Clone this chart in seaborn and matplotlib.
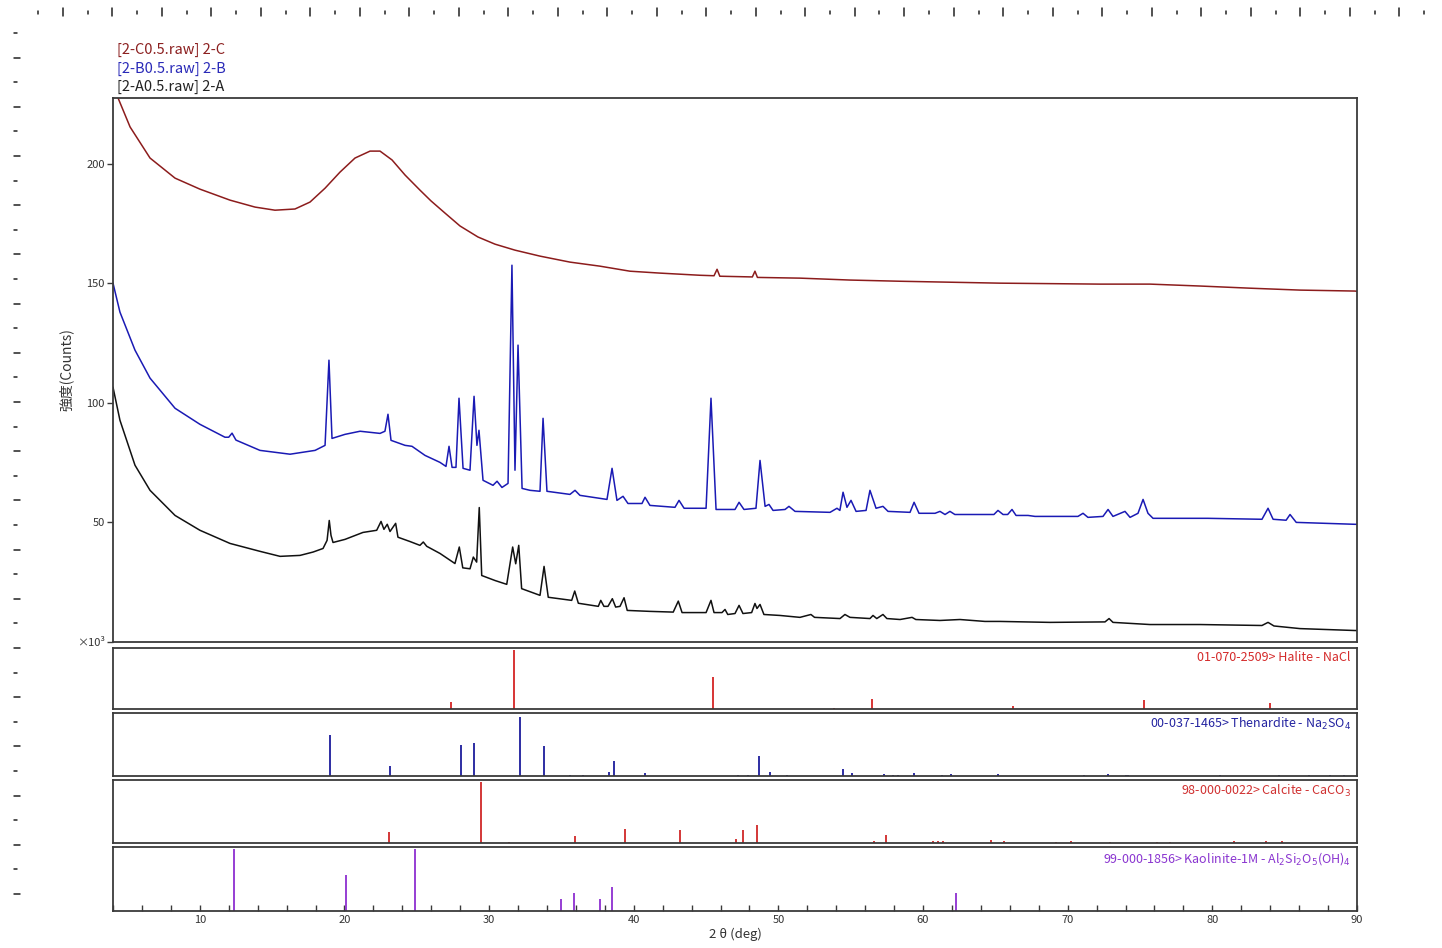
import numpy as np
import matplotlib
matplotlib.use("Agg")
import matplotlib.pyplot as plt
from matplotlib.lines import Line2D
import seaborn as sns

# ---------------- data (2theta in deg, counts in x10^3) ----------------
c_2theta = [4.0, 4.35, 5.18, 6.56, 8.29, 10.01, 12.09, 13.82, 15.2, 16.58, 17.62, 18.66, 19.69,
            20.73, 21.77, 22.46, 23.29, 24.19, 25.22, 25.98, 26.95, 27.99, 29.23,
            30.41, 31.79, 33.52, 35.59, 37.67, 39.74, 41.82, 44.58, 45.55, 45.76, 45.95, 48.2,
            48.38, 48.55, 51.49, 54.95, 58.41, 61.86, 65.32, 68.8, 72.23, 75.69, 79.15, 82.6,
            86.06, 89.86, 90.0]
c_counts = [233.0, 227.4, 215.3, 202.3, 193.9, 189.3, 184.7, 181.8, 180.5, 181.0, 183.9, 189.7, 196.4,
            202.3, 205.2, 205.2, 201.5, 195.2, 188.9, 184.4, 179.3, 173.9, 169.3,
            166.3, 163.8, 161.3, 158.8, 157.1, 155.0, 154.2, 153.3, 153.1, 155.8, 152.9, 152.6,
            155.0, 152.4, 152.1, 151.3, 150.8, 150.4, 150.0, 149.8, 149.6, 149.6, 148.8, 147.9,
            147.1, 146.7, 146.6]

b_2theta = [4.0, 4.48, 5.52, 6.56, 8.29, 10.01, 11.74, 12.0, 12.23, 12.5, 14.16, 16.24, 17.97,
            18.66, 18.93, 19.14, 20.04, 21.08, 22.46, 22.8, 23.01, 23.22, 24.19, 24.67, 25.57,
            26.6, 27.02, 27.23, 27.44, 27.71, 27.92, 28.2, 28.68, 28.96, 29.16, 29.3, 29.58,
            30.27, 30.55, 30.89, 31.31, 31.58, 31.79, 32.0, 32.28, 32.83, 33.52, 33.73, 34.0,
            35.59, 35.94, 36.28, 38.15, 38.5, 38.84, 39.26, 39.6, 40.57, 40.78, 41.12, 42.85,
            43.13, 43.48, 45.0, 45.34, 45.69, 47.0, 47.28, 47.62, 48.45, 48.73, 49.08, 49.35,
            49.63, 50.46, 50.73, 51.15, 53.57, 54.05, 54.25, 54.47, 54.74, 55.02, 55.37, 56.06,
            56.33, 56.75, 57.23, 57.58, 59.1, 59.38, 59.72, 60.83, 61.17, 61.52, 61.86, 62.2,
            64.9, 65.18, 65.53, 65.85, 66.15, 66.43, 67.26, 67.74, 70.71, 71.06, 71.4, 72.44,
            72.79, 73.13, 73.96, 74.31, 74.86, 75.21, 75.55, 75.9, 77.07, 79.69, 83.43, 83.85,
            84.2, 85.1, 85.37, 85.8, 89.86, 90.0]
b_counts = [150.0, 137.9, 122.0, 110.3, 97.7, 91.0, 85.6, 85.6, 87.3, 84.4, 80.1, 78.5, 80.1,
            82.2, 117.8, 85.1, 86.8, 88.1, 87.2, 88.1, 95.2, 84.3, 82.2, 81.8, 78.0,
            75.1, 73.4, 81.8, 73.0, 73.0, 101.9, 72.6, 71.8, 102.7, 82.2, 88.5, 67.6,
            65.5, 67.2, 64.6, 66.3, 157.5, 71.8, 124.1, 64.2, 63.4, 63.0, 93.5, 63.0,
            61.7, 63.4, 61.3, 59.6, 72.6, 59.2, 60.9, 57.9, 57.9, 60.5, 57.1, 56.3,
            59.2, 55.9, 55.9, 101.9, 55.4, 55.4, 58.4, 55.4, 55.9, 75.9, 56.7, 57.5,
            55.0, 55.4, 56.7, 54.6, 54.2, 55.9, 55.0, 62.6, 56.3, 59.2, 54.6, 55.0,
            63.4, 55.9, 56.7, 54.6, 54.2, 58.4, 53.8, 53.8, 54.6, 53.3, 54.6, 53.3,
            53.3, 55.0, 53.3, 53.3, 55.4, 52.9, 52.9, 52.5, 52.5, 53.8, 52.1, 52.5,
            55.4, 52.5, 54.6, 52.1, 53.8, 59.6, 53.8, 51.7, 51.7, 51.7, 51.3, 55.9,
            51.3, 50.9, 53.3, 50.0, 49.2, 49.2]

a_2theta = [4.0, 4.48, 5.52, 6.56, 8.29, 10.01, 12.09, 14.16, 15.55, 16.93, 17.83, 18.52, 18.8,
            18.95, 19.07, 19.21, 20.04, 21.28, 22.23, 22.53, 22.73, 22.96, 23.15, 23.54, 23.7,
            24.53, 25.22, 25.45, 25.69, 26.61, 27.64, 27.94, 28.18, 28.68, 28.91, 29.14, 29.32,
            29.49, 30.41, 31.22, 31.63, 31.84, 32.05, 32.25, 33.52, 33.8, 34.09, 35.71, 35.92,
            36.17, 37.55, 37.72, 37.94, 38.22, 38.52, 38.75, 39.05, 39.33, 39.55, 41.12, 42.73,
            43.08, 43.34, 45.0, 45.34, 45.55, 46.1, 46.31, 46.5, 47.0, 47.28, 47.55, 48.15,
            48.38, 48.52, 48.73, 49.0, 50.1, 51.49, 52.25, 52.5, 54.26, 54.6, 54.95, 56.33,
            56.54, 56.8, 57.23, 57.5, 58.41, 59.24, 59.5, 61.17, 62.55, 64.28, 65.32, 68.78,
            72.58, 72.86, 73.13, 75.69, 79.15, 83.43, 83.85, 84.26, 86.06, 89.86, 90.0]
a_counts = [106.5, 92.7, 73.9, 63.4, 52.9, 46.7, 41.2, 37.9, 35.8, 36.2, 37.6, 39.1, 42.5,
            50.8, 44.6, 41.6, 42.9, 45.8, 46.7, 50.4, 47.1, 49.2, 46.2, 49.6, 43.8,
            42.0, 40.4, 41.8, 40.0, 37.0, 32.8, 39.7, 31.0, 30.6, 35.5, 33.4, 56.2,
            27.8, 25.7, 24.1, 39.7, 32.7, 40.4, 22.3, 19.5, 31.6, 18.7, 17.4, 21.3,
            16.2, 14.9, 17.4, 14.9, 14.9, 18.1, 14.6, 14.9, 18.5, 13.2, 12.8, 12.5,
            17.1, 12.3, 12.3, 17.4, 12.3, 12.3, 13.6, 11.5, 11.9, 15.3, 11.9, 12.3,
            16.1, 14.0, 15.7, 11.5, 11.1, 10.3, 11.5, 10.3, 9.8, 11.5, 10.3, 9.8,
            11.1, 9.8, 11.5, 9.8, 9.4, 10.3, 9.4, 9.0, 9.4, 8.6, 8.6, 8.2,
            8.4, 9.8, 8.2, 7.3, 7.3, 6.9, 8.2, 6.7, 5.6, 4.8, 4.8]

scan_labels = ["[2-C0.5.raw] 2-C", "[2-B0.5.raw] 2-B", "[2-A0.5.raw] 2-A"]

halite_pos = [27.37, 31.70, 45.45, 53.87, 56.48, 66.23, 75.30, 83.99]
halite_int = [12, 100, 55, 2, 17, 5, 16, 10]

thenardite_pos = [19.03, 23.15, 28.04, 28.98, 32.11, 33.83, 35.6, 36.5, 38.3, 38.64, 40.8, 47.2,
                  47.9, 48.65, 49.4, 50.6, 54.5, 55.1, 57.3, 57.9, 58.3, 59.4, 61.3, 61.9, 65.2,
                  71.1, 72.8, 74.0, 74.2, 80.5, 84.6, 86.7, 88.1, 89.1]
thenardite_int = [68, 17, 51, 54, 97, 49, 1.5, 1.5, 6, 25, 5, 2,
                  2, 33, 6, 2, 12, 5, 3, 2, 2, 5, 2, 4, 4,
                  2, 4, 2, 2, 2, 2, 2, 2, 2]

calcite_pos = [23.06, 29.41, 31.4, 35.97, 39.42, 43.17, 47.1, 47.52, 48.52, 56.58, 57.41, 60.7,
               61.0, 61.4, 64.7, 65.6, 69.2, 70.2, 72.9, 76.2, 77.1, 81.5, 83.7, 84.8]
calcite_int = [18, 100, 2, 12, 23, 21, 6, 22, 30, 3, 14, 3,
               3, 3, 5, 3, 2, 3, 2, 2, 2, 3, 4, 3]

kaolinite_pos = [12.35, 20.1, 24.9, 35.0, 35.9, 37.7, 38.5, 62.3]
kaolinite_int = [100, 58, 100, 20, 30, 20, 39, 30]

ref_labels = ["01-070-2509> Halite - NaCl",
              r"00-037-1465> Thenardite - Na$_2$SO$_4$",
              r"98-000-0022> Calcite - CaCO$_3$",
              r"99-000-1856> Kaolinite-1M - Al$_2$Si$_2$O$_5$(OH)$_4$"]

y_ticks = [0, 50, 100, 150, 200]
y_ticklabels = ["×10³", "50", "100", "150", "200"]
x_major = [10, 20, 30, 40, 50, 60, 70, 80, 90]

# ---------------- style ----------------
sns.set_style("white")
plt.rcParams["font.family"] = ["Noto Sans CJK JP", "DejaVu Sans"]
plt.rcParams["axes.unicode_minus"] = False

scan_colors = ["#8c1c1c", "#1a1ab4", "#111111"]
label_colors = ["#8c2020", "#2a2ab8", "#222222"]
ref_colors = ["#d42424", "#1c1c9c", "#d02828", "#8e2fd0"]
label_ref_colors = ["#d42a2a", "#2323a0", "#d03030", "#8a35d0"]
spine_c = "#3a3a3a"

W, H = 1442, 948
fig = plt.figure(figsize=(W / 100, H / 100), dpi=100)

def fx(px):
    return px / W

def fy(py):
    return 1 - py / H

L, R = 113, 1357
main = fig.add_axes([fx(L), fy(642), fx(R) - fx(L), fy(98) - fy(642)])
panels_px = [(648, 709), (713, 776), (780, 843), (847, 911)]
panels = [fig.add_axes([fx(L), fy(b), fx(R) - fx(L), fy(t) - fy(b)]) for t, b in panels_px]

# main scans
for xs, ys, col in zip([c_2theta, b_2theta, a_2theta], [c_counts, b_counts, a_counts], scan_colors):
    sns.lineplot(x=xs, y=ys, ax=main, color=col, linewidth=1.1, sort=False, estimator=None)

main.set_xlim(4, 90)
main.set_ylim(0, 227.4)
main.set_yticks(y_ticks)
main.set_yticklabels(y_ticklabels, fontsize=8, color="#333333")
main.set_xticks([])
main.tick_params(axis="y", direction="out", length=4, width=1, color=spine_c, pad=2, left=True)
main.set_ylabel("強度(Counts)", fontsize=10, color="#333333", labelpad=2)
main.set_xlabel("")

# reference stick patterns
refs = [(halite_pos, halite_int), (thenardite_pos, thenardite_int),
        (calcite_pos, calcite_int), (kaolinite_pos, kaolinite_int)]
for ax, (pos, inten), col, lab, lcol in zip(panels, refs, ref_colors, ref_labels, label_ref_colors):
    ax.vlines(pos, 0, inten, color=col, linewidth=1.3)
    ax.set_xlim(4, 90)
    ax.set_ylim(0, 104)
    ax.set_yticks([])
    ax.set_xticks([])
    ax.text(0.995, 0.95, lab, transform=ax.transAxes, ha="right", va="top",
            fontsize=9, color=lcol)

for ax in [main] + panels:
    for s in ax.spines.values():
        s.set_visible(True)
        s.set_color(spine_c)
        s.set_linewidth(1.3)
    ax.set_facecolor("white")

bottom = panels[-1]
bottom.set_xticks(x_major)
bottom.set_xticklabels([str(v) for v in x_major], fontsize=8, color="#333333")
bottom.set_xticks(list(range(4, 91, 2)), minor=True)
bottom.tick_params(axis="x", which="both", direction="in", length=4, width=1,
                   color=spine_c, bottom=True, pad=3)
bottom.set_xlabel("2 θ (deg)", fontsize=9.5, color="#333333", labelpad=2)

# scan legend (text lines above plot)
for i, (lab, col) in enumerate(zip(scan_labels, label_colors)):
    fig.text(fx(117), fy(50 + i * 18.5), lab, ha="left", va="center", fontsize=10.5, color=col)

# decorative rulers of the screenshot
for i, xp in enumerate(np.arange(38, W, 24.75)):
    ln = 8 if i % 2 else 3
    fig.add_artist(Line2D([fx(xp), fx(xp)], [fy(12 + ln / 2), fy(12 - ln / 2)],
                          color="#222222", linewidth=1.1))
for i, yp in enumerate(np.arange(33, 910, 24.6)):
    ln = 6 if i % 2 else 3
    fig.add_artist(Line2D([fx(14), fx(14 + ln)], [fy(yp), fy(yp)],
                          color="#222222", linewidth=1.1))

fig.savefig("out.png", dpi=100, facecolor="white")
